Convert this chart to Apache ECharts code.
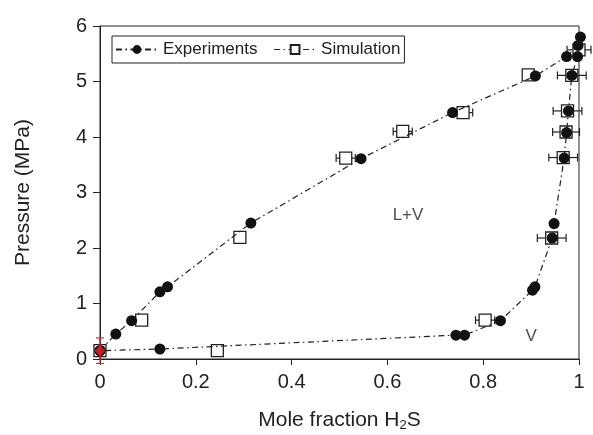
<!doctype html>
<html lang="en">
<head>
<meta charset="UTF-8">
<title>Pressure vs mole fraction H2S</title>
<script src="https://cdn.jsdelivr.net/npm/echarts@6/dist/echarts.min.js"></script>
<style>
  html, body { margin: 0; padding: 0; background: #fff; }
  #chart { width: 593px; height: 435px; }
</style>
</head>
<body>
<div id="chart"></div>
<script>
// experimental points, ordered round the phase envelope (liquid branch up, vapour branch down)
var expX = [0, 0.033, 0.066, 0.125, 0.141, 0.315, 0.545, 0.736, 0.909, 0.974, 0.998, 1.003,
            0.997, 0.985, 0.978, 0.974, 0.969, 0.948, 0.944, 0.908, 0.903, 0.836, 0.761, 0.743, 0.125, 0];
var expY = [0.15, 0.45, 0.69, 1.21, 1.30, 2.45, 3.61, 4.44, 5.10, 5.45, 5.65, 5.80,
            5.45, 5.11, 4.47, 4.08, 3.62, 2.44, 2.18, 1.30, 1.24, 0.69, 0.43, 0.43, 0.18, 0.15];

// simulation points and their x error (half width)
var simX   = [0, 0.087, 0.245, 0.292, 0.513, 0.632, 0.758, 0.894, 1.0, 0.985, 0.976, 0.973, 0.967, 0.943, 0.804];
var simY   = [0.15, 0.70, 0.15, 2.19, 3.62, 4.10, 4.44, 5.12, 5.57, 5.11, 4.47, 4.09, 3.63, 2.18, 0.70];
var simErr = [0, 0, 0, 0, 0.02, 0.02, 0.02, 0, 0.025, 0.03, 0.03, 0.028, 0.03, 0.03, 0.02];

// red reference point with pressure error
var refX = [0];
var refY = [0.15];
var refErr = [0.23];

var xTicks = [0, 0.2, 0.4, 0.6, 0.8, 1];
var yTicks = [0, 1, 2, 3, 4, 5, 6];

var regionText = ['L+V', 'V'];
var regionX = [0.643, 0.90];
var regionY = [2.58, 0.40];

var font = "'Liberation Sans', Arial, sans-serif";
var ink = '#222';
var dashDot = [6, 3.5, 1.5, 3.5];

function pairs(xs, ys) {
    var out = [];
    for (var i = 0; i < xs.length; i++) out.push([xs[i], ys[i]]);
    return out;
}

var errData = [];
for (var i = 0; i < simX.length; i++) {
    if (simErr[i] > 0) errData.push([simX[i], simY[i], simErr[i]]);
}
var refErrData = [];
for (var j = 0; j < refX.length; j++) refErrData.push([refX[j], refY[j], refErr[j]]);

var chart = echarts.init(document.getElementById('chart'));

var option = {
    animation: false,
    textStyle: { fontFamily: font, color: ink },
    grid: {
        left: 100, right: 14, top: 26, bottom: 76,
        outerBoundsMode: 'none', containLabel: false,
        show: true, borderColor: ink, borderWidth: 1
    },
    legend: {
        left: 112, top: 36,
        padding: [5, 4, 5, 3],
        borderColor: ink, borderWidth: 1,
        itemWidth: 42, itemHeight: 11, itemGap: 16,
        textStyle: { fontFamily: font, fontSize: 17, color: ink },
        data: [
            { name: 'Experiments' },
            { name: 'Simulation', lineStyle: { opacity: 1, color: ink, width: 1.2, type: dashDot } }
        ]
    },
    xAxis: {
        type: 'value', min: 0, max: 1, interval: 0.2,
        name: 'Mole fraction H{sub|2}S',
        nameLocation: 'middle', nameGap: 50,
        nameTextStyle: {
            fontFamily: font, fontSize: 21, color: ink,
            rich: { sub: { fontFamily: font, fontSize: 13, color: ink, verticalAlign: 'bottom', padding: [10, 0, 0, 0] } }
        },
        axisLine: { lineStyle: { color: ink, width: 1 } },
        axisTick: { show: true, length: 6, inside: false, lineStyle: { color: ink } },
        axisLabel: {
            fontFamily: font, fontSize: 20, color: ink, margin: 13,
            formatter: function (v) { return xTicks.indexOf(v) >= 0 ? String(v) : ''; }
        },
        splitLine: { show: false }
    },
    yAxis: {
        type: 'value', min: 0, max: 6, interval: 1,
        name: 'Pressure (MPa)',
        nameLocation: 'middle', nameGap: 66,
        nameTextStyle: { fontFamily: font, fontSize: 21, color: ink },
        axisLine: { show: true, lineStyle: { color: ink, width: 1 } },
        axisTick: { show: true, length: 7, inside: false, lineStyle: { color: ink } },
        axisLabel: {
            fontFamily: font, fontSize: 20, color: ink, margin: 13,
            formatter: function (v) { return yTicks.indexOf(v) >= 0 ? String(v) : ''; }
        },
        splitLine: { show: false }
    },
    series: [
        {
            name: 'SimErr',
            type: 'custom',
            z: 2,
            silent: true,
            renderItem: function (params, api) {
                var x = api.value(0), y = api.value(1), e = api.value(2);
                var a = api.coord([x - e, y]);
                var b = api.coord([x + e, y]);
                var h = 4;
                return {
                    type: 'group',
                    children: [
                        { type: 'line', shape: { x1: a[0], y1: a[1], x2: b[0], y2: b[1] }, style: { stroke: ink, lineWidth: 1.2 } },
                        { type: 'line', shape: { x1: a[0], y1: a[1] - h, x2: a[0], y2: a[1] + h }, style: { stroke: ink, lineWidth: 1.2 } },
                        { type: 'line', shape: { x1: b[0], y1: b[1] - h, x2: b[0], y2: b[1] + h }, style: { stroke: ink, lineWidth: 1.2 } }
                    ]
                };
            },
            data: errData
        },
        {
            name: 'Simulation',
            type: 'line',
            z: 3,
            clip: false,
            symbol: 'rect',
            symbolSize: 12,
            itemStyle: { color: '#fff', borderColor: ink, borderWidth: 1.3 },
            lineStyle: { opacity: 0 },
            data: pairs(simX, simY)
        },
        {
            name: 'Experiments',
            type: 'line',
            z: 4,
            clip: false,
            symbol: 'circle',
            symbolSize: 11,
            itemStyle: { color: '#111' },
            lineStyle: { color: ink, width: 1.2, type: dashDot },
            data: pairs(expX, expY)
        },
        {
            name: 'RefErr',
            type: 'custom',
            z: 5,
            silent: true,
            renderItem: function (params, api) {
                var x = api.value(0), y = api.value(1), e = api.value(2);
                var a = api.coord([x, y - e]);
                var b = api.coord([x, y + e]);
                var w = 4;
                var red = '#e8202a';
                return {
                    type: 'group',
                    children: [
                        { type: 'line', shape: { x1: a[0], y1: a[1], x2: b[0], y2: b[1] }, style: { stroke: red, lineWidth: 1.2 } },
                        { type: 'line', shape: { x1: a[0] - w, y1: a[1], x2: a[0] + w, y2: a[1] }, style: { stroke: red, lineWidth: 1.2 } },
                        { type: 'line', shape: { x1: b[0] - w, y1: b[1], x2: b[0] + w, y2: b[1] }, style: { stroke: red, lineWidth: 1.2 } }
                    ]
                };
            },
            data: refErrData
        },
        {
            name: 'Ref',
            type: 'scatter',
            z: 6,
            clip: false,
            symbol: 'diamond',
            symbolSize: 11,
            itemStyle: { color: '#e8202a' },
            data: pairs(refX, refY)
        },
        {
            name: 'Regions',
            type: 'scatter',
            z: 6,
            symbolSize: 0,
            silent: true,
            label: {
                show: true, position: 'inside',
                fontFamily: font, fontSize: 17, color: ink,
                formatter: function (p) { return regionText[p.dataIndex]; }
            },
            data: pairs(regionX, regionY)
        }
    ]
};

chart.setOption(option);
</script>
</body>
</html>
